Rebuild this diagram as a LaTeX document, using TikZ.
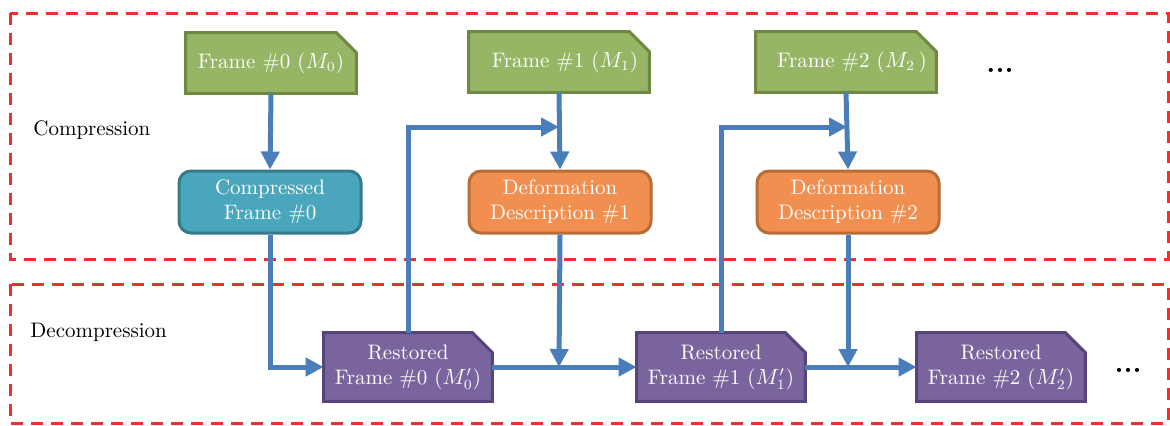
\documentclass[tikz,border=0pt]{standalone}
\usetikzlibrary{arrows.meta,backgrounds}
\definecolor{gfill}{HTML}{96B565}
\definecolor{gdraw}{HTML}{6E8A40}
\definecolor{tfill}{HTML}{4AA6BC}
\definecolor{tdraw}{HTML}{367B8C}
\definecolor{ofill}{HTML}{F08F50}
\definecolor{odraw}{HTML}{B86C36}
\definecolor{pfill}{HTML}{7A649E}
\definecolor{pdraw}{HTML}{574478}
\definecolor{ablue}{HTML}{4A7EBA}
\definecolor{dred}{HTML}{F03030}
\newcommand{\chamfbox}[3]{%
  \begin{scope}[on background layer]
  \draw[line width=1.5pt, fill=#2, draw=#3, line join=miter]
    (#1.south west) -- (#1.north west) -- ([xshift=-10pt]#1.north east)
    -- ([yshift=-10pt]#1.north east) -- (#1.south east) -- cycle;
  \end{scope}}
\tikzset{
  box/.style={text=white, align=center, inner sep=0pt,
    font=\fontsize{10.5}{12.5}\selectfont},
  green/.style={box, rectangle, minimum width=85pt, minimum height=30pt},
  purple/.style={box, rectangle, minimum width=84pt, minimum height=34pt},
  rbox/.style={box, line width=1.5pt, rectangle, rounded corners=6pt, minimum width=91pt, minimum height=31pt},
  teal/.style={rbox, fill=tfill, draw=tdraw},
  orange/.style={rbox, fill=ofill, draw=odraw},
  conn/.style={draw=ablue, line width=2.5pt},
  arr/.style={conn, -{Triangle[length=9pt,width=9pt]}},
  region/.style={draw=dred, line width=1.5pt, dash pattern=on 6pt off 4pt},
  lab/.style={anchor=west, inner sep=0pt, font=\fontsize{10.5}{12.5}\selectfont},
  dots/.style={font=\Large\bfseries}
}
\begin{document}
\begin{tikzpicture}[x=0.5pt,y=-0.5pt]
\useasboundingbox (0,0) rectangle (1170,425);
\draw[region] (10,13) rectangle (1168,259);
\draw[region] (10,284) rectangle (1168,423);
\node[lab] (lc) at (33,130) {Compression};
\node[lab] (ld) at (30,332) {Decompression};

\node[green] (f0) at (271,63) {Frame \#0 ($M_0$)};
\node[green, minimum width=90pt] (f1) at (559,62) {\hspace{6pt}Frame \#1 ($M_1$)};
\node[green, minimum width=90pt] (f2) at (846,62) {\hspace{6pt}Frame \#2 ($M_2$\,)};
\chamfbox{f0}{gfill}{gdraw}
\chamfbox{f1}{gfill}{gdraw}
\chamfbox{f2}{gfill}{gdraw}
\node[dots] (d1) at (1000,70) {...};

\node[teal] (c0) at (270,202) {Compressed\\Frame \#0};
\node[orange] (e1) at (560,202) {Deformation\\Description \#1};
\node[orange] (e2) at (848,202) {Deformation\\Description \#2};

\node[purple] (r0) at (408,367) {Restored\\Frame \#0 ($M'_0$)};
\node[purple] (r1) at (721,367) {Restored\\Frame \#1 ($M'_1$)};
\node[purple] (r2) at (1001,367) {Restored\\Frame \#2 ($M'_2$)};
\chamfbox{r0}{pfill}{pdraw}
\chamfbox{r1}{pfill}{pdraw}
\chamfbox{r2}{pfill}{pdraw}
\node[dots] (d2) at (1128,370) {...};

\coordinate (j1) at (559,127);
\coordinate (j2) at (847,127);
\coordinate (h1) at (559,367);
\coordinate (h2) at (848,367);

\draw[arr] (f0.south) -- (c0.north);
\draw[arr] (c0.south) |- (r0.west);
\draw[arr] (f1.south) -- (e1.north);
\draw[arr] (f2.south) -- (e2.north);
\draw[arr] (r0.north) |- (j1);
\draw[arr] (r1.north) |- (j2);
\draw[arr] (e1.south) -- (h1);
\draw[arr] (e2.south) -- (h2);
\draw[arr] (r0.east) -- (r1.west);
\draw[arr] (r1.east) -- (r2.west);
\end{tikzpicture}
\end{document}
